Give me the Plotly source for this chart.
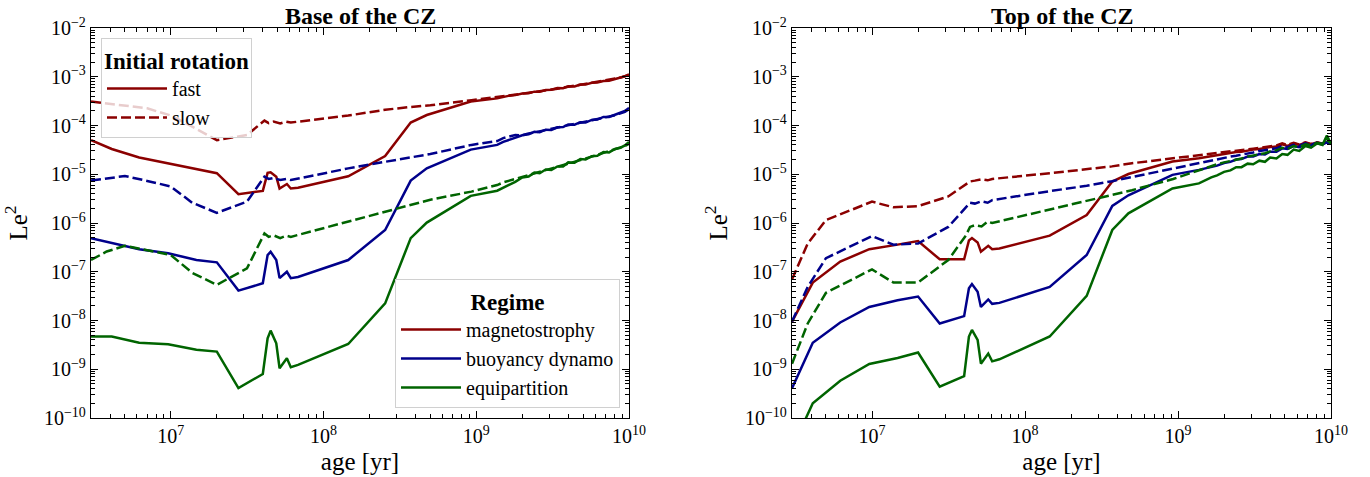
import plotly.graph_objects as go

# ---------------- data ----------------
FAST_AGE = [3.0e6, 4.1e6, 6.2e6, 9.6e6, 1.47e7, 2.0e7, 2.77e7, 4.0e7, 4.3e7, 4.5e7, 4.9e7,
            5.15e7, 5.75e7, 6.1e7, 6.8e7, 1.45e8, 2.53e8, 3.72e8, 4.74e8, 9.2e8, 1.37e9]
SLOW_AGE = [3.0e6, 3.8e6, 5.0e6, 7.0e6, 1.0e7, 1.38e7, 2.0e7, 3.15e7, 4.1e7, 4.37e7, 4.7e7,
            5.2e7, 5.7e7, 6.1e7, 1.45e8, 2.53e8, 3.7e8, 5.0e8, 9.3e8, 1.37e9]
TAIL_AGE = [1.5e9, 1.65e9, 1.8e9, 2.0e9, 2.2e9, 2.4e9, 2.6e9, 2.85e9, 3.1e9, 3.4e9, 3.7e9,
            4.0e9, 4.4e9, 4.8e9, 5.2e9, 5.7e9, 6.2e9, 6.8e9, 7.4e9, 8.1e9, 8.8e9, 9.4e9, 1.0e10]

# Base of the CZ
BASE_FAST_MAG = [5.0e-5, 3.3e-5, 2.2e-5, 1.65e-5, 1.26e-5, 1.05e-5, 3.9e-6, 4.55e-6, 1.07e-5, 1.1e-5, 8.9e-6,
                 5.1e-6, 6.3e-6, 5.1e-6, 5.3e-6, 9.1e-6, 2.37e-5, 1.15e-4, 1.64e-4, 3.1e-4, 3.6e-4,
                 3.85e-4, 4.1e-4, 4.2e-4, 4.55e-4, 4.6e-4, 4.95e-4, 4.9e-4, 5.35e-4, 5.4e-4, 5.85e-4, 5.8e-4,
                 6.35e-4, 6.3e-4, 6.95e-4, 6.9e-4, 7.5e-4, 7.6e-4, 8.2e-4, 8.3e-4, 8.9e-4, 9.5e-4, 1.02e-3, 1.12e-3]
BASE_SLOW_MAG = [3.1e-4, 2.85e-4, 2.6e-4, 2.25e-4, 1.6e-4, 9.5e-5, 5.0e-5, 6.4e-5, 1.26e-4, 1.12e-4, 1.2e-4,
                 1.1e-4, 1.2e-4, 1.15e-4, 1.6e-4, 2.1e-4, 2.4e-4, 2.6e-4, 3.3e-4, 3.8e-4,
                 3.95e-4, 4.05e-4, 4.3e-4, 4.5e-4, 4.7e-4, 4.85e-4, 5.05e-4, 5.25e-4, 5.5e-4, 5.7e-4, 5.95e-4,
                 6.2e-4, 6.5e-4, 6.8e-4, 7.1e-4, 7.4e-4, 7.8e-4, 8.1e-4, 8.5e-4, 9.0e-4, 9.6e-4, 1.03e-3, 1.1e-3]
BASE_FAST_BUO = [4.85e-7, 3.9e-7, 2.9e-7, 2.4e-7, 1.74e-7, 1.56e-7, 4.1e-8, 5.8e-8, 2.2e-7, 2.57e-7, 1.74e-7,
                 7.4e-8, 1.0e-7, 7.4e-8, 7.8e-8, 1.74e-7, 7.2e-7, 7.4e-6, 1.32e-5, 3.2e-5, 4.0e-5,
                 4.6e-5, 5.1e-5, 5.5e-5, 6.3e-5, 6.6e-5, 7.4e-5, 7.3e-5, 8.2e-5, 8.1e-5, 9.2e-5, 9.3e-5,
                 1.05e-4, 1.04e-4, 1.17e-4, 1.15e-4, 1.3e-4, 1.32e-4, 1.5e-4, 1.5e-4, 1.68e-4, 1.8e-4, 1.98e-4, 2.3e-4]
BASE_SLOW_BUO = [7.4e-6, 8.3e-6, 9.2e-6, 7.3e-6, 5.6e-6, 2.6e-6, 1.62e-6, 2.74e-6, 8.9e-6, 8.0e-6, 8.4e-6,
                 7.6e-6, 8.0e-6, 7.6e-6, 1.32e-5, 1.8e-5, 2.2e-5, 2.6e-5, 4.0e-5, 4.8e-5,
                 5.5e-5, 5.9e-5, 6.4e-5, 6.3e-5, 6.9e-5, 7.2e-5, 7.6e-5, 8.0e-5, 8.5e-5, 8.9e-5, 9.6e-5,
                 1.0e-4, 1.08e-4, 1.12e-4, 1.2e-4, 1.26e-4, 1.36e-4, 1.42e-4, 1.54e-4, 1.62e-4, 1.78e-4, 1.9e-4, 2.15e-4]
BASE_FAST_EQU = [4.7e-9, 4.7e-9, 3.5e-9, 3.25e-9, 2.5e-9, 2.3e-9, 4.1e-10, 8.0e-10, 4.3e-9, 6.2e-9, 3.4e-9,
                 1.05e-9, 1.68e-9, 1.1e-9, 1.23e-9, 3.3e-9, 2.24e-8, 4.9e-7, 1.02e-6, 3.6e-6, 4.6e-6,
                 5.3e-6, 6.2e-6, 7.0e-6, 8.6e-6, 9.0e-6, 1.08e-5, 1.05e-5, 1.25e-5, 1.22e-5, 1.45e-5, 1.45e-5,
                 1.75e-5, 1.72e-5, 2.05e-5, 2.0e-5, 2.35e-5, 2.4e-5, 2.85e-5, 2.8e-5, 3.3e-5, 3.5e-5, 3.9e-5, 4.6e-5]
BASE_SLOW_EQU = [1.74e-7, 2.6e-7, 3.4e-7, 2.8e-7, 2.2e-7, 9.5e-8, 5.4e-8, 1.17e-7, 6.1e-7, 5.2e-7, 5.6e-7,
                 4.9e-7, 5.5e-7, 5.2e-7, 1.07e-6, 1.7e-6, 2.4e-6, 3.0e-6, 4.4e-6, 6.0e-6,
                 6.8e-6, 7.4e-6, 8.0e-6, 8.8e-6, 9.5e-6, 1.03e-5, 1.1e-5, 1.2e-5, 1.3e-5, 1.4e-5, 1.52e-5,
                 1.65e-5, 1.8e-5, 1.95e-5, 2.1e-5, 2.3e-5, 2.5e-5, 2.7e-5, 2.95e-5, 3.2e-5, 3.5e-5, 3.8e-5, 4.2e-5]

# Top of the CZ
TOP_FAST_MAG = [9.5e-9, 6.0e-8, 1.62e-7, 2.9e-7, 3.6e-7, 4.25e-7, 1.8e-7, 1.8e-7, 4.4e-7, 4.9e-7, 4.0e-7,
                2.57e-7, 3.4e-7, 2.9e-7, 3.0e-7, 5.5e-7, 1.46e-6, 7.1e-6, 1.01e-5, 1.82e-5, 2.14e-5,
                2.25e-5, 2.35e-5, 2.45e-5, 2.6e-5, 2.7e-5, 2.85e-5, 2.9e-5, 3.1e-5, 3.2e-5, 3.3e-5, 3.5e-5,
                3.6e-5, 3.7e-5, 4.1e-5, 3.8e-5, 4.3e-5, 4.0e-5, 4.4e-5, 4.1e-5, 4.5e-5, 4.2e-5, 4.6e-5, 4.4e-5]
TOP_SLOW_MAG = [7.0e-8, 3.8e-7, 1.15e-6, 1.78e-6, 2.74e-6, 2.1e-6, 2.22e-6, 3.5e-6, 6.3e-6, 7.1e-6, 7.4e-6,
                7.9e-6, 7.5e-6, 8.0e-6, 1.05e-5, 1.25e-5, 1.45e-5, 1.68e-5, 2.15e-5, 2.5e-5,
                2.6e-5, 2.7e-5, 2.8e-5, 2.9e-5, 3.0e-5, 3.1e-5, 3.15e-5, 3.25e-5, 3.35e-5, 3.5e-5, 3.6e-5,
                3.75e-5, 3.9e-5, 4.3e-5, 4.0e-5, 4.4e-5, 4.1e-5, 4.5e-5, 4.2e-5, 4.5e-5, 4.3e-5, 4.7e-5, 4.5e-5]
TOP_FAST_BUO = [4.1e-10, 3.5e-9, 9.1e-9, 1.9e-8, 2.6e-8, 3.1e-8, 8.7e-9, 1.23e-8, 4.6e-8, 5.6e-8, 3.9e-8,
                1.9e-8, 2.7e-8, 2.2e-8, 2.3e-8, 4.9e-8, 2.2e-7, 2.24e-6, 3.7e-6, 9.7e-6, 1.23e-5,
                1.3e-5, 1.4e-5, 1.5e-5, 1.7e-5, 1.8e-5, 2.0e-5, 2.05e-5, 2.3e-5, 2.3e-5, 2.6e-5, 2.55e-5,
                2.9e-5, 2.9e-5, 3.4e-5, 3.3e-5, 3.8e-5, 3.6e-5, 4.1e-5, 3.9e-5, 4.3e-5, 4.1e-5, 4.5e-5, 4.3e-5]
TOP_SLOW_BUO = [9.5e-9, 4.9e-8, 1.9e-7, 3.2e-7, 5.4e-7, 3.6e-7, 3.8e-7, 8.3e-7, 2.0e-6, 2.6e-6, 2.5e-6,
                2.8e-6, 2.6e-6, 2.95e-6, 4.5e-6, 5.8e-6, 7.2e-6, 8.8e-6, 1.3e-5, 1.7e-5,
                1.8e-5, 1.9e-5, 2.0e-5, 2.15e-5, 2.3e-5, 2.4e-5, 2.5e-5, 2.7e-5, 2.8e-5, 3.0e-5, 3.1e-5,
                3.3e-5, 3.4e-5, 3.8e-5, 3.6e-5, 4.0e-5, 3.8e-5, 4.3e-5, 4.0e-5, 4.4e-5, 4.2e-5, 4.5e-5, 4.4e-5]
TOP_FAST_EQU = [2.4e-11, 2.0e-10, 5.8e-10, 1.28e-9, 1.7e-9, 2.2e-9, 4.4e-10, 7.2e-10, 4.7e-9, 6.4e-9, 4.0e-9,
                1.3e-9, 2.1e-9, 1.45e-9, 1.6e-9, 4.7e-9, 3.2e-8, 7.2e-7, 1.58e-6, 5.1e-6, 6.5e-6,
                7.6e-6, 8.6e-6, 9.5e-6, 1.12e-5, 1.2e-5, 1.4e-5, 1.4e-5, 1.65e-5, 1.6e-5, 1.9e-5, 1.8e-5,
                2.2e-5, 2.1e-5, 2.6e-5, 2.5e-5, 3.2e-5, 3.0e-5, 3.8e-5, 3.5e-5, 4.3e-5, 4.0e-5, 6.2e-5, 4.2e-5]
TOP_SLOW_EQU = [1.3e-9, 8.7e-9, 3.7e-8, 6.3e-8, 1.12e-7, 6.0e-8, 6.0e-8, 1.74e-7, 5.5e-7, 8.3e-7, 9.0e-7,
                8.5e-7, 1.07e-6, 1.0e-6, 1.9e-6, 2.8e-6, 3.7e-6, 4.7e-6, 8.0e-6, 1.2e-5,
                1.35e-5, 1.5e-5, 1.6e-5, 1.75e-5, 1.85e-5, 2.0e-5, 2.1e-5, 2.3e-5, 2.4e-5, 2.6e-5, 2.7e-5,
                2.95e-5, 3.1e-5, 3.5e-5, 3.3e-5, 3.8e-5, 3.6e-5, 4.1e-5, 3.9e-5, 4.4e-5, 4.2e-5, 5.0e-5, 4.4e-5]

REGIMES = ["magnetostrophy", "buoyancy dynamo", "equipartition"]
ROTATIONS = ["fast", "slow"]
TITLES = ["Base of the CZ", "Top of the CZ"]
COLORS = ["#8b0000", "#00008b", "#006400"]

X_TICKS = [1e7, 1e8, 1e9, 1e10]
X_TICKTEXT = ["10<sup>7</sup>", "10<sup>8</sup>", "10<sup>9</sup>", "10<sup>10</sup>"]
Y_TICKS = [1e-10, 1e-9, 1e-8, 1e-7, 1e-6, 1e-5, 1e-4, 1e-3, 1e-2]
Y_TICKTEXT = ["10<sup>\u221210</sup>", "10<sup>\u22129</sup>", "10<sup>\u22128</sup>", "10<sup>\u22127</sup>",
              "10<sup>\u22126</sup>", "10<sup>\u22125</sup>", "10<sup>\u22124</sup>", "10<sup>\u22123</sup>",
              "10<sup>\u22122</sup>"]

# ---------------- figure ----------------
FONT = "Liberation Serif"
DASH = "10px,4px"
LW = 2.5

fig = go.Figure()

panels = [
    ("x", "y", [(BASE_FAST_MAG, BASE_SLOW_MAG), (BASE_FAST_BUO, BASE_SLOW_BUO), (BASE_FAST_EQU, BASE_SLOW_EQU)]),
    ("x2", "y2", [(TOP_FAST_MAG, TOP_SLOW_MAG), (TOP_FAST_BUO, TOP_SLOW_BUO), (TOP_FAST_EQU, TOP_SLOW_EQU)]),
]
fast_x = FAST_AGE + TAIL_AGE
slow_x = SLOW_AGE + TAIL_AGE
for xa, ya, series in panels:
    for (fast, slow), col in zip(series, COLORS):
        fig.add_trace(go.Scatter(x=fast_x, y=fast, mode="lines", xaxis=xa, yaxis=ya,
                                 line=dict(color=col, width=LW), showlegend=False, hoverinfo="skip"))
        fig.add_trace(go.Scatter(x=slow_x, y=slow, mode="lines", xaxis=xa, yaxis=ya,
                                 line=dict(color=col, width=LW, dash=DASH), showlegend=False, hoverinfo="skip"))

# placeholder traces so that the minor-tick overlay axes are drawn
for xa, ya in [("x3", "y3"), ("x4", "y4")]:
    fig.add_trace(go.Scatter(x=[None], y=[None], mode="lines", xaxis=xa, yaxis=ya,
                             showlegend=False, hoverinfo="skip"))

# legend entries
fig.add_trace(go.Scatter(x=[None], y=[None], mode="lines", name=ROTATIONS[0], legend="legend",
                         line=dict(color=COLORS[0], width=LW)))
fig.add_trace(go.Scatter(x=[None], y=[None], mode="lines", name=ROTATIONS[1], legend="legend",
                         line=dict(color=COLORS[0], width=LW, dash=DASH)))
for name, col in zip(REGIMES, COLORS):
    fig.add_trace(go.Scatter(x=[None], y=[None], mode="lines", name=name, legend="legend2",
                             line=dict(color=col, width=LW)))

W, H = 1370, 477
L1, R1 = 91, 629
L2, R2 = 792, 1331
TOP, BOT = 28, 418
XR = [6.477, 10]
YR = [-10, -2]

# minor tick positions (2..9 x each decade)
X_MINOR = [m * 10 ** e for e in range(6, 10) for m in range(2, 10)]
Y_MINOR = [m * 10.0 ** e for e in range(-10, -2) for m in range(2, 10)]


def base_axis():
    return dict(type="log", showgrid=False, zeroline=False,
                showline=True, linecolor="black", linewidth=1.3, mirror="ticks",
                ticks="inside", tickcolor="black", automargin=False)


def xaxis(dom, anchor):
    d = base_axis()
    d.update(range=XR, tickmode="array", tickvals=X_TICKS, ticktext=X_TICKTEXT,
             domain=dom, anchor=anchor, ticklen=7, tickwidth=1.2,
             tickfont=dict(family=FONT, size=20, color="black"),
             title=dict(text="age [yr]", font=dict(family=FONT, size=25, color="black"), standoff=6))
    return d


def yaxis(anchor):
    d = base_axis()
    d.update(range=YR, tickmode="array", tickvals=Y_TICKS, ticktext=Y_TICKTEXT,
             domain=[0, 1], anchor=anchor, ticklen=7, tickwidth=1.2,
             tickfont=dict(family=FONT, size=20, color="black"),
             title=dict(text="Le<sup>2</sup>", font=dict(family=FONT, size=25, color="black"), standoff=10))
    return d


def xminor(dom, anchor, over):
    d = base_axis()
    d.update(range=XR, tickmode="array", tickvals=X_MINOR, showticklabels=False,
             domain=dom, anchor=anchor, overlaying=over, ticklen=3.5, tickwidth=1)
    return d


def yminor(anchor, over):
    d = base_axis()
    d.update(range=YR, tickmode="array", tickvals=Y_MINOR, showticklabels=False,
             domain=[0, 1], anchor=anchor, overlaying=over, ticklen=3.5, tickwidth=1)
    return d


fig.update_layout(
    template="none",
    width=W, height=H,
    margin=dict(l=0, r=0, t=TOP, b=H - BOT, pad=0),
    paper_bgcolor="white", plot_bgcolor="white",
    xaxis=xaxis([L1 / W, R1 / W], "y"),
    yaxis=yaxis("x"),
    xaxis2=xaxis([L2 / W, R2 / W], "y2"),
    yaxis2=yaxis("x2"),
    xaxis3=xminor([L1 / W, R1 / W], "y3", "x"),
    yaxis3=yminor("x3", "y"),
    xaxis4=xminor([L2 / W, R2 / W], "y4", "x2"),
    yaxis4=yminor("x4", "y2"),
    legend=dict(x=101 / W, y=(BOT - 38) / (BOT - TOP), xanchor="left", yanchor="top",
                bgcolor="rgba(255,255,255,0.8)", bordercolor="#d0d0d0", borderwidth=1,
                font=dict(family=FONT, size=20, color="black"), itemwidth=60, tracegroupgap=0,
                title=dict(text="<b>Initial rotation</b>", side="top center",
                           font=dict(family=FONT, size=23, color="black"))),
    legend2=dict(x=620 / W, y=(BOT - 408) / (BOT - TOP), xanchor="right", yanchor="bottom",
                 bgcolor="rgba(255,255,255,0.8)", bordercolor="#d0d0d0", borderwidth=1,
                 font=dict(family=FONT, size=20, color="black"), itemwidth=60, tracegroupgap=0,
                 title=dict(text="<b>Regime</b>", side="top center",
                            font=dict(family=FONT, size=23, color="black"))),
    annotations=[
        dict(text="<b>%s</b>" % TITLES[0], x=(L1 + R1) / 2 / W, y=1, xref="paper", yref="paper",
             xanchor="center", yanchor="bottom", yshift=-3, showarrow=False,
             font=dict(family=FONT, size=24, color="black")),
        dict(text="<b>%s</b>" % TITLES[1], x=(L2 + R2) / 2 / W, y=1, xref="paper", yref="paper",
             xanchor="center", yanchor="bottom", yshift=-3, showarrow=False,
             font=dict(family=FONT, size=24, color="black")),
    ],
)

fig.write_html("out.html")
